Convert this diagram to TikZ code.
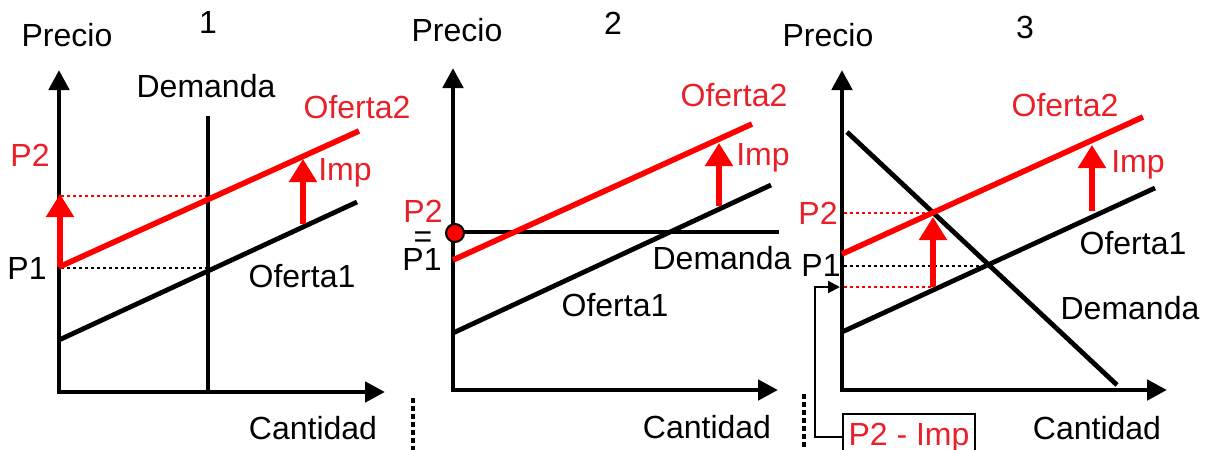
\documentclass[tikz,border=0pt]{standalone}
\usepackage{fontspec}
\setmainfont{Liberation Sans}
\usetikzlibrary{arrows.meta}
\definecolor{ofred}{RGB}{255,0,0}
\definecolor{labred}{RGB}{232,32,40}
\tikzset{
  axis/.style={line width=2.4pt,{Triangle[length=10pt,width=10pt]}-{Triangle[length=10pt,width=10pt]}},
  curve/.style={line width=2.4pt},
  redcurve/.style={line width=2.8pt,draw=ofred},
  impup/.style={line width=2.6pt,draw=ofred,-{Triangle[length=11.5pt,width=13.5pt]},fill=ofred},
  guide/.style={line width=1pt,dash pattern=on 1.5pt off 1.5pt},
  sep/.style={line width=2pt,dash pattern=on 2.5pt off 1.5pt},
  lab/.style={inner sep=0pt},
  redlab/.style={inner sep=0pt,text=labred}
}
\begin{document}
\begin{tikzpicture}[x=0.5pt,y=-0.5pt,font=\fontsize{16}{19}\selectfont]
  \useasboundingbox (0,0) rectangle (1217,450);
  \clip (0,0) rectangle (1217,450);
  % panel 1
  \draw[axis] (59,70) -- (59,392) -- (385,392);
  \draw[guide,draw=ofred] (61,196) -- (208,196);
  \draw[guide] (61,268) -- (208,268);
  \draw[curve] (208,116) -- (208,392);
  \draw[curve] (59,340) -- (357,202);
  \draw[redcurve] (59,267) -- (359,131);
  \draw[impup] (60,267) -- (60,194);
  \draw[impup] (303,224) -- (303,159);
  \node[lab] (precioa) at (67,35) {Precio};
  \node[lab] (numa) at (208,22) {1};
  \node[lab] (demandaa) at (206,86) {Demanda};
  \node[redlab] (ofertadosa) at (357,107) {Oferta2};
  \node[redlab] (impa) at (345,173) {Imp};
  \node[redlab] (pdosa) at (30,155) {P2};
  \node[lab] (punoa) at (27,268) {P1};
  \node[lab] (ofertaunoa) at (302,276) {Oferta1};
  \node[lab] (cantidada) at (313,428) {Cantidad};
  % panel 2
  \draw[sep] (413,398) -- (413,450);
  \draw[axis] (453,68) -- (453,390) -- (778,390);
  \draw[curve] (453,232) -- (779,232);
  \draw[curve] (453,333) -- (771,185);
  \draw[redcurve] (453,260) -- (752,124);
  \draw[impup] (719,206) -- (719,143);
  \filldraw[fill=ofred,draw=black,line width=1pt] (455,233) circle [radius=9];
  \node[lab] (preciob) at (457,30) {Precio};
  \node[lab] (numb) at (613,23) {2};
  \node[redlab] (ofertadosb) at (734,95) {Oferta2};
  \node[redlab] (impb) at (763,158) {Imp};
  \node[redlab] (pdosb) at (423,211) {P2};
  \node[lab,anchor=base] (igualb) at (423,247) {=};
  \node[lab] (punob) at (422,259) {P1};
  \node[lab] (demandab) at (722,258) {Demanda};
  \node[lab] (ofertaunob) at (615,305) {Oferta1};
  \node[lab] (cantidadb) at (707,427) {Cantidad};
  % panel 3
  \draw[sep] (804,394) -- (804,450);
  \draw[axis] (842,70) -- (842,390) -- (1167,390);
  \draw[guide,draw=ofred] (844,213) -- (933,213);
  \draw[guide] (844,266) -- (987,266);
  \draw[guide,draw=ofred] (844,287) -- (933,287);
  \draw[curve] (847,132) -- (1117,385);
  \draw[curve] (842,332) -- (1155,188);
  \draw[redcurve] (842,254) -- (1143,117);
  \draw[impup] (1092,211) -- (1092,145);
  \draw[impup] (933,287) -- (933,217);
  \node[lab] (precioc) at (828,35) {Precio};
  \node[lab] (numc) at (1025,27) {3};
  \node[redlab] (ofertadosc) at (1065,105) {Oferta2};
  \node[redlab] (impc) at (1138,165) {Imp};
  \node[redlab] (pdosc) at (818,213) {P2};
  \node[lab] (punoc) at (821,265) {P1};
  \node[lab] (ofertaunoc) at (1133,243) {Oferta1};
  \node[lab] (demandac) at (1130,308) {Demanda};
  \node[lab] (cantidadc) at (1097,428) {Cantidad};
  \node[draw,line width=1pt,text=labred,inner xsep=2.75pt,inner ysep=4.5pt,anchor=north] (pmenosimp) at (909,413) {P2 - Imp};
  \coordinate (pbajo) at (840,287);
  \draw[line width=1pt,-{Triangle[length=6pt,width=6pt]}] (pmenosimp.west) -| (815,287) -- (pbajo);
\end{tikzpicture}
\end{document}
